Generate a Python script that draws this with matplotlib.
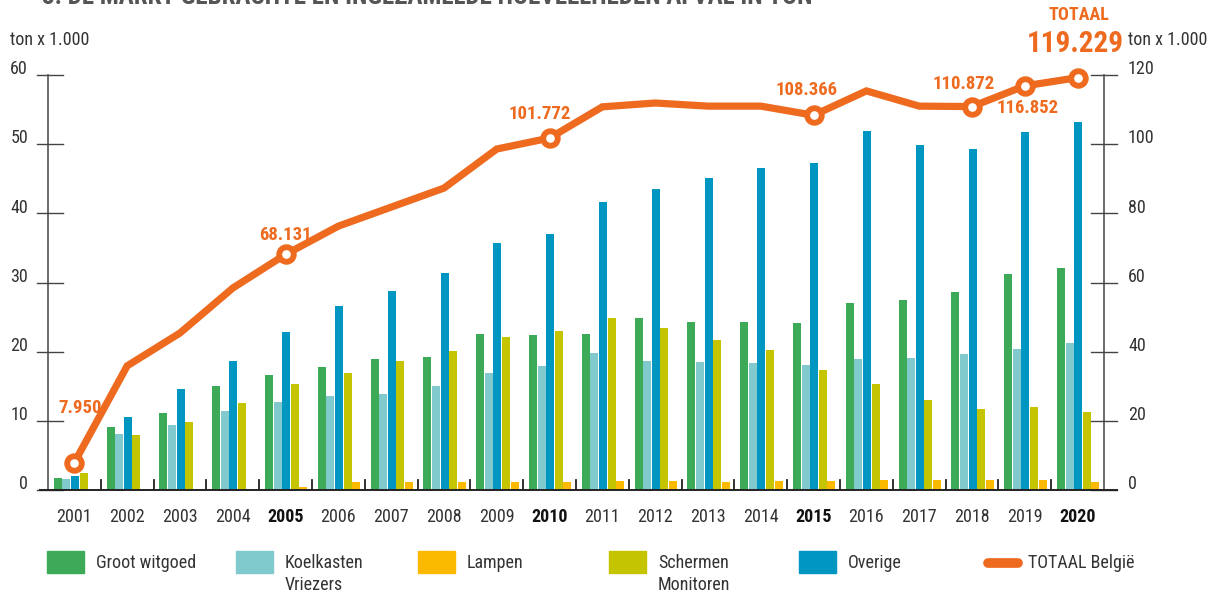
import matplotlib
matplotlib.use("Agg")
import matplotlib.pyplot as plt
from matplotlib import font_manager
from matplotlib.patches import Rectangle
from matplotlib.lines import Line2D
import numpy as np

# prefer a narrow face when one is installed
_names = {f.name for f in font_manager.fontManager.ttflist}
_narrow = [n for n in ('Liberation Sans Narrow', 'DejaVu Sans Condensed',
                       'Roboto Condensed', 'Open Sans Condensed') if n in _names]
plt.rcParams['font.family'] = _narrow + ['Liberation Sans', 'DejaVu Sans']
NARROW = bool(_narrow)

# ---- data (ton x 1.000) ----
years = [2001, 2002, 2003, 2004, 2005, 2006, 2007, 2008, 2009, 2010,
         2011, 2012, 2013, 2014, 2015, 2016, 2017, 2018, 2019, 2020]
bold_years = [2005, 2010, 2015, 2020]

groot_witgoed = [1.7, 9.1, 11.1, 15.0, 16.6, 17.8, 18.9, 19.2, 22.6, 22.4,
                 22.6, 24.9, 24.3, 24.3, 24.1, 27.0, 27.5, 28.6, 31.2, 32.1]
koelkasten = [1.6, 8.1, 9.4, 11.4, 12.7, 13.6, 13.9, 15.0, 16.9, 17.9,
              19.8, 18.6, 18.5, 18.4, 18.1, 18.9, 19.1, 19.7, 20.4, 21.25]
overige = [2.0, 10.55, 14.6, 18.65, 22.8, 26.6, 28.8, 31.4, 35.7, 37.0,
           41.6, 43.5, 45.1, 46.55, 47.3, 51.9, 49.9, 49.3, 51.8, 53.2]
schermen = [2.5, 7.95, 9.8, 12.6, 15.3, 16.9, 18.65, 20.1, 22.1, 23.0,
            24.9, 23.4, 21.7, 20.2, 17.35, 15.3, 13.0, 11.7, 12.0, 11.3]
lampen = [0.0, 0.0, 0.0, 0.0, 0.4, 1.15, 1.15, 1.15, 1.15, 1.15,
          1.3, 1.3, 1.15, 1.3, 1.3, 1.45, 1.45, 1.45, 1.45, 1.15]
totaal = [7.950, 35.9, 45.4, 58.4, 68.131, 76.3, 81.8, 87.3, 98.6, 101.772,
          110.8, 111.9, 111.0, 111.0, 108.366, 115.4, 111.0, 110.872, 116.852, 119.229]

# highlighted totals with their label offset (dx, dy in points)
highlight = {2001: (4, 39), 2005: (0, 14), 2010: (-7, 17), 2015: (-5, 18.5),
             2018: (-6, 16.5), 2019: (2, -16)}

C_GROEN = '#3DAA57'
C_KOEL = '#80C9CC'
C_LAMP = '#FBBA00'
C_SCHERM = '#C4C400'
C_OVER = '#0096C2'
C_ORANJE = '#EE6A1F'
C_TEKST = '#333333'
C_AS = '#444444'

# text sizes (narrow face allows larger sizes)
FS = 13 if NARROW else 11.2
FS_VAL = 13.5 if NARROW else 12
FS_BIG = 21 if NARROW else 18
FS_TOT = 13 if NARROW else 11.5
FS_HEAD = 18 if NARROW else 14.5

W, H = 1215, 594
fig = plt.figure(figsize=(W / 100, H / 100), dpi=100)

def fx(px):
    return px / W

def fy(py):
    return 1 - py / H

ax_l, ax_r, ax_t, ax_b = 48, 1104, 75, 490
ax = fig.add_axes([fx(ax_l), fy(ax_b), fx(ax_r) - fx(ax_l), fy(ax_t) - fy(ax_b)])
ax2 = ax.twinx()

x = np.arange(len(years))
bw = 0.152
pitch = 0.163
series = [(groot_witgoed, C_GROEN), (koelkasten, C_KOEL), (overige, C_OVER),
          (schermen, C_SCHERM), (lampen, C_LAMP)]
for k, (vals, col) in enumerate(series):
    ax.bar(x + (k - 2) * pitch + 0.01, vals, width=bw, color=col,
           edgecolor='none', zorder=2)

ax.set_xlim(-0.5, len(years) - 0.5)
ax.set_ylim(0, 60)
ax2.set_ylim(0, 120)

for a in (ax, ax2):
    for s in a.spines.values():
        s.set_visible(False)
    a.set_xticks([])
    a.set_yticks([])
    a.patch.set_visible(False)

span = ax_r - ax_l
# vertical axes
ax.plot([0, 0], [0, 1], transform=ax.transAxes, color=C_AS, lw=1.1, clip_on=False)
ax.plot([1, 1], [0, 1], transform=ax.transAxes, color=C_AS, lw=1.1, clip_on=False)
# baseline
ax.plot([(40 - ax_l) / span, (1117 - ax_l) / span], [0, 0],
        transform=ax.transAxes, color='#222222', lw=1.4, clip_on=False, zorder=3)

tl0, tl1 = (37 - ax_l) / span, (63 - ax_l) / span
tr0, tr1 = (1091 - ax_l) / span, (1117 - ax_l) / span
for v in range(0, 61, 10):
    yy = v / 60
    ax.plot([tl0, tl1], [yy, yy], transform=ax.transAxes, color=C_AS, lw=1.0, clip_on=False)
    ax.text((28 - ax_l) / span, yy + 0.002, f'{v}', transform=ax.transAxes,
            ha='right', va='baseline', fontsize=FS, color=C_TEKST)
for v in range(0, 121, 20):
    yy = v / 120
    ax.plot([tr0, tr1], [yy, yy], transform=ax.transAxes, color=C_AS, lw=1.0, clip_on=False)
    ax.text((1128 - ax_l) / span, yy + 0.002, f'{v}', transform=ax.transAxes,
            ha='left', va='baseline', fontsize=FS, color=C_TEKST)

# group separators
for i in range(len(years) - 1):
    ax.plot([i + 0.5, i + 0.5], [0, 1.45], color='#222222', lw=1.3, zorder=3)

# year labels
for i, yr in enumerate(years):
    ax.text(i, -2.6, str(yr), ha='center', va='top', fontsize=FS,
            color='#111111' if yr in bold_years else C_TEKST,
            fontweight='bold' if yr in bold_years else 'normal')

# total line
ax2.plot(x, totaal, color=C_ORANJE, lw=5.2, solid_joinstyle='miter',
         solid_capstyle='butt', zorder=4, clip_on=False)
mark_years = list(highlight.keys()) + [2020]
mi = [years.index(y) for y in mark_years]
ax2.plot(x[mi], [totaal[i] for i in mi], ls='none', marker='o', ms=10.5,
         mfc='white', mec=C_ORANJE, mew=4.2, zorder=5, clip_on=False)

for yr, (dx, dy) in highlight.items():
    i = years.index(yr)
    val = totaal[i]
    ax2.annotate(f'{val:.3f}', (i, val), xytext=(dx, dy),
                 textcoords='offset points', ha='center', va='center',
                 fontsize=FS_VAL, fontweight='bold', color=C_ORANJE, zorder=6)

fig.text(fx(1079), fy(15), 'TOTAAL', ha='center', va='center', fontsize=FS_TOT,
         fontweight='bold', color=C_ORANJE)
fig.text(fx(1075), fy(44), f'{totaal[-1]:.3f}', ha='center', va='center',
         fontsize=FS_BIG, fontweight='bold', color=C_ORANJE)

fig.text(fx(10), fy(40), 'ton x 1.000', ha='left', va='center', fontsize=FS, color=C_TEKST)
fig.text(fx(1128), fy(40), 'ton x 1.000', ha='left', va='center', fontsize=FS, color=C_TEKST)

# heading (runs off the top edge)
fig.text(fx(42), fy(-3), '3. DE MARKT GEBRACHTE EN INGEZAMELDE HOEVEELHEDEN AFVAL IN TON',
         ha='left', va='center', fontsize=FS_HEAD, fontweight='bold', color='#555555')

# legend
legend_items = [
    (47, C_GROEN, 'Groot witgoed'),
    (236, C_KOEL, 'Koelkasten\nVriezers'),
    (418, C_LAMP, 'Lampen'),
    (609, C_SCHERM, 'Schermen\nMonitoren'),
    (799, C_OVER, 'Overige'),
]
for px, col, lab in legend_items:
    fig.patches.append(Rectangle((fx(px), fy(573)), fx(37), 22 / H, color=col,
                                 transform=fig.transFigure, figure=fig))
    lines = lab.split('\n')
    for j, line in enumerate(lines):
        fig.text(fx(px + 49), fy(563 + 22 * j), line, ha='left', va='center',
                 fontsize=FS, color=C_TEKST)

fig.lines.append(Line2D([fx(988), fx(1018)], [fy(563), fy(563)], color=C_ORANJE, lw=7,
                        solid_capstyle='round', transform=fig.transFigure, figure=fig))
fig.text(fx(1028), fy(563), 'TOTAAL België', ha='left', va='center', fontsize=FS, color=C_TEKST)

fig.savefig('out.png', dpi=100, facecolor='white')
